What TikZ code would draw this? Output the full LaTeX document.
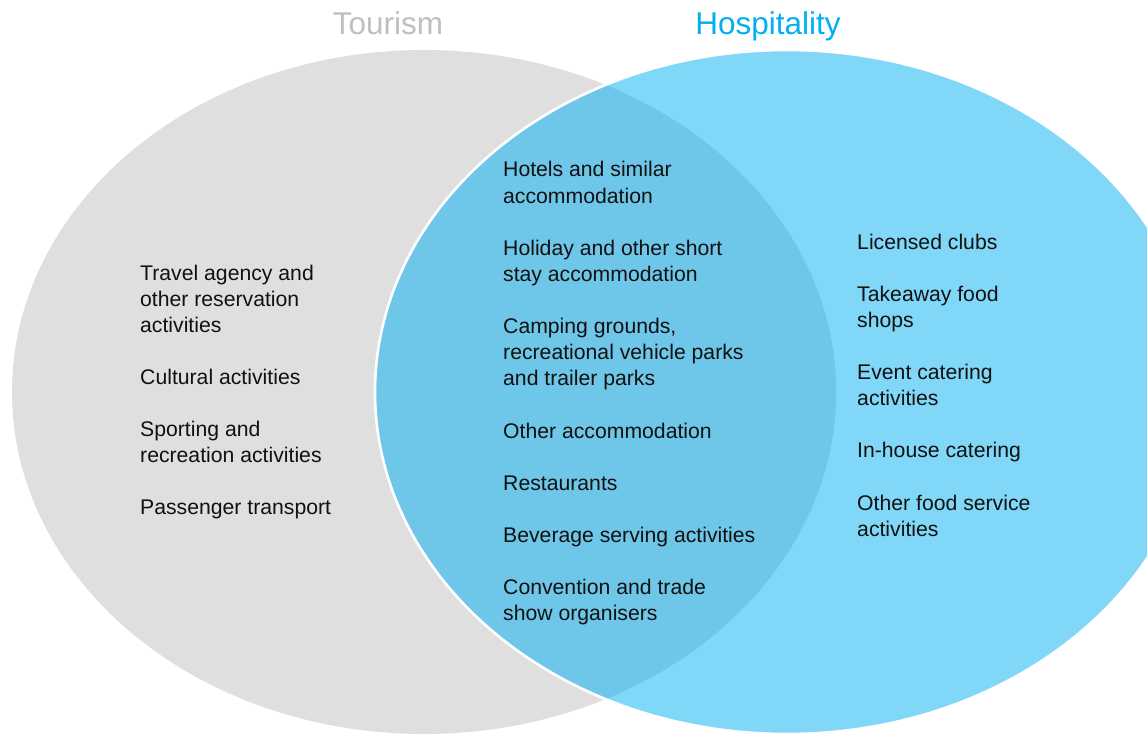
\documentclass[tikz,border=0pt]{standalone}
\usepackage{fontspec}
\setmainfont{Liberation Sans}
\definecolor{tgray}{HTML}{DFDFDF}
\definecolor{hblue}{HTML}{80D7F7}
\definecolor{overlapblue}{HTML}{6EC6E8}
\definecolor{titlegray}{HTML}{BFBFBF}
\definecolor{titleblue}{HTML}{00B0F0}
\definecolor{itemtext}{HTML}{111111}
\begin{document}
\begin{tikzpicture}[x=1pt,y=-1pt,
  item/.style={font=\fontsize{21.2}{26.1}\selectfont, align=left, inner sep=0pt, text=itemtext, anchor=base west},
  heading/.style={font=\fontsize{31.5}{36}\selectfont, inner sep=0pt, anchor=base}]
\useasboundingbox (0,0) rectangle (1147,735);
\clip (0,0) rectangle (1147,735);
\fill[white] (0,0) rectangle (1147,735);
% sets
\fill[tgray] (424,392) ellipse [x radius=412, y radius=342];
\fill[hblue] (787,392) ellipse [x radius=412, y radius=342];
\begin{scope}
  \clip (424,392) ellipse [x radius=412, y radius=342];
  \fill[overlapblue] (787,392) ellipse [x radius=412, y radius=342];
\end{scope}
\draw[white, line width=2.6pt] (787,392) ellipse [x radius=412, y radius=342];
% titles
\node[heading, text=titlegray] (tourism) at (388,35) {Tourism};
\node[heading, text=titleblue] (hospitality) at (768,35) {Hospitality};
% tourism only (anchor = baseline of last line)
\node[item] (travel) at (140,332.2) {Travel agency and\\other reservation\\activities};
\node[item] (cultural) at (140,384.4) {Cultural activities};
\node[item] (sporting) at (140,462.7) {Sporting and\\recreation activities};
\node[item] (passenger) at (140,514.9) {Passenger transport};
% both
\node[item] (hotels) at (503,203.1) {Hotels and similar\\accommodation};
\node[item] (holiday) at (503,281.4) {Holiday and other short\\stay accommodation};
\node[item] (camping) at (503,385.8) {Camping grounds,\\recreational vehicle parks\\and trailer parks};
\node[item] (otheracc) at (503,438) {Other accommodation};
\node[item] (restaurants) at (503,490.2) {Restaurants};
\node[item] (beverage) at (503,542.4) {Beverage serving activities};
\node[item] (convention) at (503,620.7) {Convention and trade\\show organisers};
% hospitality only
\node[item] (licensed) at (857,249) {Licensed clubs};
\node[item] (takeaway) at (857,327.3) {Takeaway food\\shops};
\node[item] (event) at (857,405.6) {Event catering\\activities};
\node[item] (inhouse) at (857,457.8) {In-house catering};
\node[item] (otherfood) at (857,536.1) {Other food service\\activities};
\end{tikzpicture}
\end{document}
